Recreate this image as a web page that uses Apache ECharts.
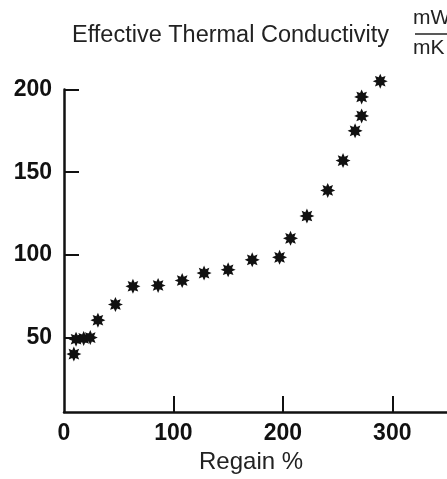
<!DOCTYPE html>
<html>
<head>
<meta charset="utf-8">
<script src="https://cdn.jsdelivr.net/npm/echarts@6/dist/echarts.min.js"></script>
<style>
  html, body { margin: 0; padding: 0; background: #fff; }
  #chart { width: 447px; height: 479px; }
</style>
</head>
<body>
<div id="chart"></div>
<script>
// Regain % (x) vs effective thermal conductivity mW/mK (y)
var regain = [9, 11, 18, 24, 31, 47, 63, 86, 108, 128, 150, 172, 197, 207, 222, 241, 255, 266, 272, 272, 289];
var conductivity = [40, 49, 49.5, 50, 60.5, 70, 81, 81.5, 84.5, 89, 91, 97, 98.5, 110, 123.5, 139, 157, 175, 184, 195.5, 205];

var xTicks = [100, 200, 300];
var xLabels = [0, 100, 200, 300];
var yTicks = [50, 100, 150, 200];

var ink = '#111';
var labelFont = { color: ink, fontFamily: 'Liberation Sans', fontWeight: 'bold', fontSize: 23 };

// asterisk-like marker: 8 pointed star
function starPath(n, R, r) {
    var pts = [];
    for (var i = 0; i < n * 2; i++) {
        var a = Math.PI * i / n - Math.PI / 2;
        var rad = i % 2 === 0 ? R : r;
        pts.push((R + rad * Math.cos(a)).toFixed(2) + ' ' + (R + rad * Math.sin(a)).toFixed(2));
    }
    return 'path://M' + pts.join(' L') + ' Z';
}

var points = regain.map(function (x, i) { return [x, conductivity[i]]; });

var chart = echarts.init(document.getElementById('chart'), null, { renderer: 'canvas' });

chart.setOption({
    animation: false,
    backgroundColor: '#fff',
    grid: { left: 64, right: 0, top: 89.5, bottom: 67 },
    xAxis: {
        type: 'value',
        min: 0,
        max: 350,
        splitLine: { show: false },
        axisLine: { lineStyle: { color: ink, width: 2.5 } },
        axisTick: { inside: true, length: 16, lineStyle: { color: ink, width: 2 }, customValues: xTicks },
        axisLabel: Object.assign({ margin: 10, customValues: xLabels }, labelFont)
    },
    yAxis: {
        type: 'value',
        min: 5,
        max: 200,
        splitLine: { show: false },
        axisLine: { lineStyle: { color: ink, width: 2.5 } },
        axisTick: { inside: true, length: 15, lineStyle: { color: ink, width: 2 }, customValues: yTicks },
        axisLabel: Object.assign({ margin: 12, customValues: yTicks }, labelFont)
    },
    series: [{
        type: 'scatter',
        data: points,
        clip: false,
        symbol: starPath(8, 10, 5.6),
        symbolSize: 15,
        itemStyle: { color: ink, opacity: 1 }
    }],
    graphic: [
        {
            type: 'text', left: 72, top: 24,
            style: { text: 'Effective Thermal Conductivity', fill: '#222', font: '23.5px "Liberation Sans"' }
        },
        {
            type: 'text', left: 413, top: 8,
            style: { text: 'mW', fill: '#222', font: '21px "Liberation Sans"' }
        },
        {
            type: 'line', shape: { x1: 415, y1: 34, x2: 447, y2: 34 },
            style: { stroke: '#222', lineWidth: 1.5 }
        },
        {
            type: 'text', left: 413, top: 38,
            style: { text: 'mK', fill: '#222', font: '21px "Liberation Sans"' }
        },
        {
            type: 'text', left: 199, top: 450,
            style: { text: 'Regain %', fill: '#222', font: '24px "Liberation Sans"' }
        }
    ]
});
</script>
</body>
</html>
